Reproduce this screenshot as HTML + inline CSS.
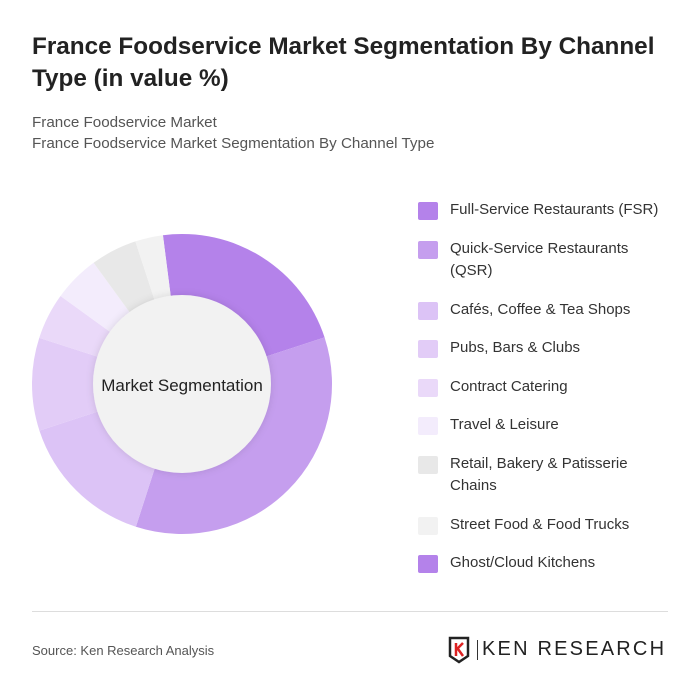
<!DOCTYPE html>
<html><head><meta charset="utf-8"><style>
body{margin:0;background:#fff;font-family:"Liberation Sans",sans-serif;}
#wrap{position:relative;width:700px;height:698px;overflow:hidden;}
.t{position:absolute;white-space:nowrap;}
.leg{position:absolute;left:418px;}
.sw{position:absolute;left:0;width:20px;height:18px;border-radius:2px;}
.lt{position:absolute;left:32px;font-size:15px;color:#333;line-height:22px;white-space:nowrap;}
</style></head><body>
<div id="wrap">
<div class="t" style="left:32px;top:31px;font-size:24.3px;font-weight:bold;color:#222;line-height:32px;">France Foodservice Market Segmentation By Channel<br>Type (in value %)</div>
<div class="t" style="left:32px;top:112px;font-size:15.2px;color:#555;line-height:21px;">France Foodservice Market<br>France Foodservice Market Segmentation By Channel Type</div>
<svg id="donut" width="700" height="698" style="position:absolute;left:0;top:0">
<defs><filter id="sh" x="-20%" y="-20%" width="140%" height="140%"><feDropShadow dx="0" dy="0" stdDeviation="4" flood-color="#000" flood-opacity="0.12"/></filter></defs>
<g id="slices"></g>
<circle cx="182" cy="384" r="89" fill="#f2f2f2" filter="url(#sh)"/>
<text x="182" y="391" text-anchor="middle" font-size="17" fill="#222" font-family="Liberation Sans, sans-serif">Market Segmentation</text>
</svg>
<div id="legend"></div>
<div style="position:absolute;left:32px;top:611px;width:636px;height:1px;background:#ddd"></div>
<div class="t" style="left:32px;top:643px;font-size:13px;color:#555;">Source: Ken Research Analysis</div>
<div style="position:absolute;left:448px;top:636px;width:222px;height:28px;">
<svg width="24" height="28" style="position:absolute;left:0;top:0"><path d="M2 2 H20 V20 L11 26 L2 20 Z" fill="none" stroke="#222" stroke-width="2.5"/><path d="M8 7 V20 M8 14 L15 7 M10 13 L15 20" stroke="#d22" stroke-width="2.5" fill="none"/></svg>
<div style="position:absolute;left:29px;top:4px;width:1px;height:20px;background:#333"></div>
<div class="t" style="left:34px;top:2px;font-size:20px;letter-spacing:2.2px;color:#222;">KEN RESEARCH</div>
</div>
</div>
<script>
const categories=["Full-Service Restaurants (FSR)","Quick-Service Restaurants (QSR)","Cafés, Coffee & Tea Shops","Pubs, Bars & Clubs","Contract Catering","Travel & Leisure","Retail, Bakery & Patisserie Chains","Street Food & Food Trucks","Ghost/Cloud Kitchens"];
const values=[22,35,15,10,5,5,5,3,0];
const colors=["#b482ea","#c59eee","#dcc3f6","#e2ccf7","#ead9f9","#f3ecfc","#e8e8e8","#f2f2f2","#b482ea"];
const legendLines=[["Full-Service Restaurants (FSR)"],["Quick-Service Restaurants","(QSR)"],["Cafés, Coffee & Tea Shops"],["Pubs, Bars & Clubs"],["Contract Catering"],["Travel & Leisure"],["Retail, Bakery & Patisserie","Chains"],["Street Food & Food Trucks"],["Ghost/Cloud Kitchens"]];
const cx=182,cy=384,R=150,startDeg=-7.3;
const total=values.reduce((a,b)=>a+b,0);
const g=document.getElementById('slices');
function pt(deg,r){const a=(deg-90)*Math.PI/180;return [cx+r*Math.cos(a),cy+r*Math.sin(a)];}
let a0=startDeg;
values.forEach((v,i)=>{
  const sweep=v/total*360;
  if(sweep<=0)return;
  const a1=a0+sweep;
  const p0=pt(a0,R),p1=pt(a1,R);
  const p=document.createElementNS('http://www.w3.org/2000/svg','path');
  p.setAttribute('d',`M${cx},${cy} L${p0[0]},${p0[1]} A${R},${R} 0 ${sweep>180?1:0} 1 ${p1[0]},${p1[1]} Z`);
  p.setAttribute('fill',colors[i]);
  
  
  g.appendChild(p);
  a0=a1;
});
const leg=document.getElementById('legend');
let y=201;
categories.forEach((c,i)=>{
  const lines=legendLines[i];
  const row=document.createElement('div');
  row.className='leg';
  row.style.top=y+'px';
  
  
  const sw=document.createElement('div');
  sw.className='sw';sw.style.background=colors[i];sw.style.top='1px';
  
  
  const t=document.createElement('div');
  t.className='lt';t.style.top='-2px';t.innerHTML=lines.join('<br>');
  
  
  row.appendChild(sw);row.appendChild(t);leg.appendChild(row);
  y+=lines.length>1?61:38.5;
});
</script>
</body></html>
